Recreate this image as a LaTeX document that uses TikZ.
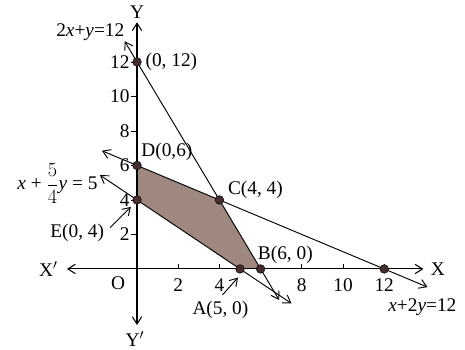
\documentclass[tikz,border=0pt]{standalone}
\usepackage{fontspec}
\usepackage{amsmath}
\setmainfont{Liberation Serif}
\usetikzlibrary{arrows.meta}

\definecolor{regioncol}{RGB}{158,136,128}
\definecolor{dotcol}{RGB}{70,45,45}

\begin{document}
\begin{tikzpicture}[
    x=0.618cm, y=0.5175cm,
    >={Straight Barb[length=2.2mm,width=2.8mm]},
    every node/.style={font=\fontsize{16.5}{19}\selectfont, inner sep=1pt},
    axisline/.style={line width=0.9pt,<->},
    boundline/.style={line width=0.8pt,<->},
    pointer/.style={line width=0.8pt,->},
    dot/.style={circle, fill=dotcol, draw=black, inner sep=0pt, minimum size=2.6mm}
]
\useasboundingbox (-6.65,-4.64) rectangle (15.92,15.59);

% ============================================================
% Eckpunkte des zulässigen Bereichs
% ============================================================
\coordinate (O) at (0,0);
\coordinate (A) at (5,0);
\coordinate (B) at (6,0);
\coordinate (C) at (4,4);
\coordinate (D) at (0,6);
\coordinate (E) at (0,4);
\coordinate (P12) at (0,12);
\coordinate (Q12) at (12,0);

% ============================================================
% Zulässiger Bereich
% ============================================================
\fill[regioncol] (E) -- (D) -- (C) -- (B) -- (A) -- cycle;

% ============================================================
% Achsen
% ============================================================
\coordinate (XLeft) at (-3.4,0);
\coordinate (XRight) at (13.9,0);
\coordinate (YTop) at (0,14.3);
\coordinate (YBottom) at (0,-3.25);

\draw[axisline] (XLeft) -- (XRight);
\draw[axisline] (YBottom) -- (YTop);

\node (Xlab) at (14.6,0) {X};
\node (Xplab) at (-4.3,0) {X$'$};
\node (Ylab) at (0,14.9) {Y};
\node (Yplab) at (-0.1,-4.05) {Y$'$};
\node (Olab) at (-0.92,-0.8) {O};

% Teilstriche
\foreach \t in {2,4,8,10,12} {
    \coordinate (xt\t) at (\t,0);
    \draw[line width=0.6pt] (xt\t) -- ++(0,0.3);
    \node (xl\t) at (\t,-0.95) {\t};
}
\foreach \t in {2,4,6,8,10,12} {
    \coordinate (yt\t) at (0,\t);
    \draw[line width=0.6pt] (yt\t) -- ++(-0.3,0);
    \node[anchor=east] (yl\t) at (-0.3,\t) {\t};
}

% ============================================================
% Begrenzungsgeraden
% ============================================================
\coordinate (L1a) at (-0.6,13.2);
\coordinate (L1b) at (6.9,-1.8);
\coordinate (L2a) at (-1.8,5.44);
\coordinate (L2b) at (7.5,-2.0);
\coordinate (L3a) at (-1.7,6.85);
\coordinate (L3b) at (14.1,-1.05);

\draw[boundline] (L1a) -- (L1b);
\draw[boundline] (L2a) -- (L2b);
\draw[boundline] (L3a) -- (L3b);

\node[anchor=east] (eq1) at (-0.55,13.7) {2\textit{x}+\textit{y}=12};
\node[anchor=east] (eq2) at (-1.85,4.95) {\textit{x} + $\dfrac{5}{4}$\textit{y} = 5};
\node (eq3) at (13.85,-2.2) {\textit{x}+2\textit{y}=12};

% ============================================================
% Punkte
% ============================================================
\foreach \p in {A,B,C,D,E,P12,Q12}
    \node[dot] (dot\p) at (\p) {};

\node[anchor=west] (labP12) at (0.35,12) {(0, 12)};
\node (labD) at (1.45,6.8) {D(0,6)};
\node (labC) at (5.75,4.6) {C(4, 4)};
\node (labB) at (7.2,0.82) {B(6, 0)};
\node (labA) at (4.05,-2.35) {A(5, 0)};
\node (labE) at (-2.9,2.1) {E(0, 4)};

\coordinate (Atail) at (4.15,-1.5);
\coordinate (Atip) at (4.9,-0.5);
\coordinate (Etail) at (-1.3,2.4);
\coordinate (Etip) at (-0.3,3.6);
\draw[pointer] (Atail) -- (Atip);
\draw[pointer] (Etail) -- (Etip);

\end{tikzpicture}
\end{document}
